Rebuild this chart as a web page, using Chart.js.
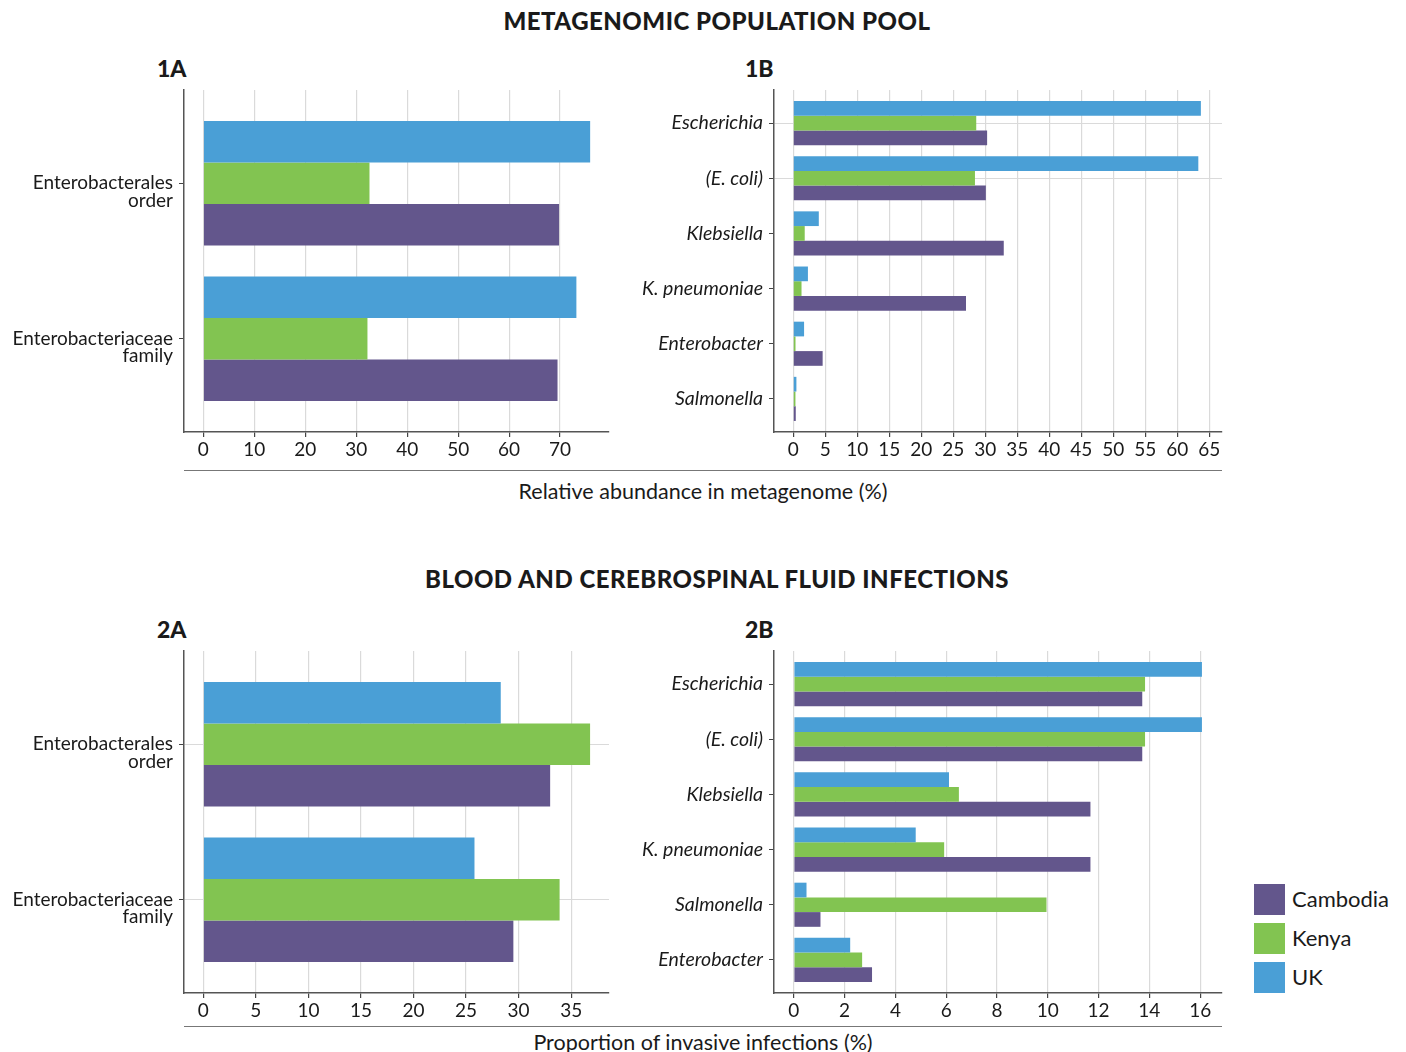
<!DOCTYPE html>
<html>
<head>
<meta charset="utf-8">
<script src="https://cdn.jsdelivr.net/npm/chart.js@4.4.1/dist/chart.umd.min.js"></script>
<style>
  body { margin: 0; background: #fff; font-family: Lato, "Open Sans", sans-serif; color: #1a1a1a; }
  #page { position: relative; width: 1406px; height: 1052px; overflow: hidden; }
  .abs { position: absolute; }
  .title { font-weight: 900; font-size: 24px; left: 0; width: 1434px; text-align: center; letter-spacing: 0.5px; }
  .panel { font-weight: 900; font-size: 23px; }
  .axtitle { font-size: 21.5px; left: 184px; width: 1038px; text-align: center; }
  .rule { left: 184px; width: 1038px; height: 0; border-top: 1.5px solid #777; }
  .legend-row { position: absolute; left: 1254px; height: 31px; }
  .legend-row span.box { position: absolute; left: 0; top: 0; width: 31px; height: 31px; }
  .legend-row span.lbl { position: absolute; left: 38px; top: 1px; font-size: 22px; white-space: nowrap; }
</style>
</head>
<body>
<div id="page">
  <div class="abs title" style="top:6px">METAGENOMIC POPULATION POOL</div>
  <div class="abs panel" style="left:157px;top:54px">1A</div>
  <div class="abs panel" style="left:745px;top:54px">1B</div>
  <canvas id="c1A" class="abs" style="left:0;top:80px" width="620" height="382"></canvas>
  <canvas id="c1B" class="abs" style="left:630px;top:80px" width="600" height="382"></canvas>
  <div class="abs rule" style="top:470px"></div>
  <div class="abs axtitle" style="top:478px">Relative abundance in metagenome (%)</div>

  <div class="abs title" style="top:564px">BLOOD AND CEREBROSPINAL FLUID INFECTIONS</div>
  <div class="abs panel" style="left:157px;top:615px">2A</div>
  <div class="abs panel" style="left:745px;top:615px">2B</div>
  <canvas id="c2A" class="abs" style="left:0;top:641px" width="620" height="382"></canvas>
  <canvas id="c2B" class="abs" style="left:630px;top:641px" width="600" height="382"></canvas>
  <div class="abs rule" style="top:1026px"></div>
  <div class="abs axtitle" style="top:1029px">Proportion of invasive infections (%)</div>

  <div id="legend"></div>
</div>

<script>
// countries and colours
const countries = ['Cambodia', 'Kenya', 'UK'];
const countryColors = ['#63568c', '#82c451', '#4a9fd6'];

// 1A - metagenome, order / family
const cats1A = [['Enterobacterales', 'order'], ['Enterobacteriaceae', 'family']];
const cambodia1A = [69.8, 69.5];
const kenya1A = [32.6, 32.2];
const uk1A = [75.9, 73.2];
const ticks1A = [0, 10, 20, 30, 40, 50, 60, 70];

// 1B - metagenome, genus / species
const cats1B = ['Escherichia', '(E. coli)', 'Klebsiella', 'K. pneumoniae', 'Enterobacter', 'Salmonella'];
const cambodia1B = [30.3, 30.1, 32.9, 27.0, 4.6, 0.4];
const kenya1B = [28.6, 28.4, 1.8, 1.3, 0.36, 0.35];
const uk1B = [63.7, 63.3, 4.0, 2.3, 1.7, 0.5];
const ticks1B = [0, 5, 10, 15, 20, 25, 30, 35, 40, 45, 50, 55, 60, 65];

// 2A - invasive infections, order / family
const cats2A = [['Enterobacterales', 'order'], ['Enterobacteriaceae', 'family']];
const cambodia2A = [33.0, 29.5];
const kenya2A = [36.8, 33.9];
const uk2A = [28.3, 25.8];
const ticks2A = [0, 5, 10, 15, 20, 25, 30, 35];

// 2B - invasive infections, genus / species
const cats2B = ['Escherichia', '(E. coli)', 'Klebsiella', 'K. pneumoniae', 'Salmonella', 'Enterobacter'];
const cambodia2B = [13.72, 13.72, 11.68, 11.68, 1.05, 3.08];
const kenya2B = [13.83, 13.83, 6.5, 5.92, 9.95, 2.69];
const uk2B = [16.07, 16.07, 6.11, 4.8, 0.5, 2.22];
const ticks2B = [0, 2, 4, 6, 8, 10, 12, 14, 16];

Chart.defaults.font.family = 'Lato, "Open Sans", sans-serif';
Chart.defaults.color = '#1a1a1a';

function makeChart(id, cats, cambodia, kenya, uk, xTicks, xMin, xMax, hGrid, italic, yWidth, padRight) {
    const toPts = vals => vals.map((v, i) => ({ x: v, y: i }));
    // UK first so it sits on top of each group
    const series = [
        { label: 'UK', data: toPts(uk), backgroundColor: countryColors[2] },
        { label: 'Kenya', data: toPts(kenya), backgroundColor: countryColors[1] },
        { label: 'Cambodia', data: toPts(cambodia), backgroundColor: countryColors[0] }
    ];
    series.forEach(s => {
        s.borderWidth = 0;
        s.barPercentage = 1.0;
        s.categoryPercentage = 0.8;
    });

    return new Chart(document.getElementById(id), {
        type: 'bar',
        data: { datasets: series },
        options: {
            indexAxis: 'y',
            responsive: false,
            animation: false,
            layout: { padding: { top: 10, right: padRight, left: 0, bottom: 0 } },
            plugins: { legend: { display: false }, tooltip: { enabled: false } },
            scales: {
                y: {
                    type: 'linear',
                    reverse: true,
                    offset: false,
                    min: -0.6,
                    max: cats.length - 1 + 0.6,
                    afterBuildTicks: scale => { scale.ticks = cats.map((_, i) => ({ value: i })); },
                    afterFit: scale => {
                        scale.width = yWidth;
                        scale.paddingTop = 0;
                        scale.paddingBottom = 0;
                    },
                    ticks: {
                        // two-line labels: first line sits on the tick, like the original
                        callback: v => Array.isArray(cats[v]) ? ['', ...cats[v]] : cats[v],
                        font: { size: italic ? 19.5 : 19, style: italic ? 'italic' : 'normal', lineHeight: 0.92 },
                        color: '#1a1a1a',
                        padding: 6
                    },
                    grid: {
                        offset: false,
                        color: ctx => hGrid.includes(ctx.index) ? '#dadada' : 'rgba(0,0,0,0)',
                        tickColor: '#444',
                        tickLength: 5,
                        lineWidth: 1
                    },
                    border: { color: '#555', width: 1.5 }
                },
                x: {
                    type: 'linear',
                    min: xMin,
                    max: xMax,
                    afterBuildTicks: scale => { scale.ticks = xTicks.map(v => ({ value: v })); },
                    afterFit: scale => { scale.height = 30; },
                    ticks: { font: { size: 19 }, color: '#1a1a1a', padding: 1, maxRotation: 0 },
                    grid: { color: '#dadada', tickColor: '#444', tickLength: 5, lineWidth: 1.2 },
                    border: { color: '#555', width: 1.5 }
                }
            }
        }
    });
}

makeChart('c1A', cats1A, cambodia1A, kenya1A, uk1A, ticks1A, -3.8, 79.6, [], false, 184, 11);
makeChart('c1B', cats1B, cambodia1B, kenya1B, uk1B, ticks1B, -3.0, 67.0, [0, 1], true, 144, 8);
makeChart('c2A', cats2A, cambodia2A, kenya2A, uk2A, ticks2A, -1.84, 38.6, [0, 1], false, 184, 11);
makeChart('c2B', cats2B, cambodia2B, kenya2B, uk2B, ticks2B, -0.78, 16.86, [], true, 144, 8);

// shared legend
const legend = document.getElementById('legend');
const legendTops = [884, 923, 962];
countries.forEach((name, i) => {
    const row = document.createElement('div');
    row.className = 'legend-row';
    row.style.top = legendTops[i] + 'px';
    row.innerHTML = `<span class="box" style="background:${countryColors[i]}"></span><span class="lbl">${name}</span>`;
    legend.appendChild(row);
});
</script>
</body>
</html>
